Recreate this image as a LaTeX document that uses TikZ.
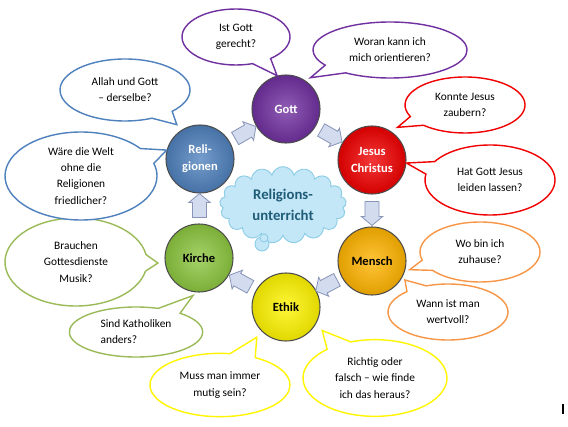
\documentclass[tikz,border=0pt]{standalone}
\usepackage{fontspec}
\setmainfont{Carlito}
\usepackage{xcolor}
\usepackage{tikz}
\usetikzlibrary{shapes.callouts, shapes.symbols, shapes.arrows}
\usetikzlibrary{calc, positioning}

\definecolor{lila}{HTML}{7030A0}
\definecolor{rot}{HTML}{F00000}
\definecolor{orange}{HTML}{FFB400}
\definecolor{orangerand}{HTML}{F79646}
\definecolor{gelb}{HTML}{FFF500}
\definecolor{gruen}{HTML}{8CC63F}
\definecolor{gruenrand}{HTML}{9BBB59}
\definecolor{blau}{HTML}{4F81BD}
\definecolor{wolkefill}{HTML}{C4E7F7}
\definecolor{wolkerand}{HTML}{8CCDE6}
\definecolor{wolketext}{HTML}{1F5C78}
\definecolor{pfeilfill}{HTML}{D3DCEF}
\definecolor{pfeilrand}{HTML}{8895B8}

\begin{document}
\begin{tikzpicture}[
      x=0.03cm, y=-0.03cm,
      kugel/.style={circle, minimum size=2.04cm, inner sep=0pt, draw=black!70, line width=0.9pt,
        shade, inner color=#1!78!white, outer color=#1!88!black,
        font=\fontsize{10.7}{14.5}\selectfont\bfseries, align=center},
      blase/.style={ellipse callout, draw=#1, fill=white, line width=1.2pt, inner sep=0pt,
        callout pointer arc=22, font=\fontsize{9.7}{13.8}\selectfont, align=center},
      pfeil/.style={single arrow, draw=pfeilrand, fill=pfeilfill, line width=0.7pt,
        minimum height=0.72cm, inner xsep=0pt, inner ysep=0.2cm, single arrow head extend=0.11cm,
        single arrow tip angle=100},
      wolke_style/.style={draw=wolkerand, fill=wolkefill, line width=0.8pt}
  ]
  \useasboundingbox (0,0) rectangle (568,427);

  % 1. Wolke in der Mitte
  \node[wolke_style, cloud, cloud puffs=17, cloud ignores aspect, minimum width=3.8cm, minimum height=2.3cm,
    text=wolketext, font=\fontsize{12.6}{18}\selectfont\bfseries, align=center]
    (ru) at (283,205) {Religions-\\unterricht};
  \node[wolke_style, circle, minimum size=0.42cm, inner sep=0pt] (ru_b1) at (262,244) {};
  \node[wolke_style, circle, minimum size=0.24cm, inner sep=0pt] (ru_b2) at (264,238) {};

  % 2. Kugeln im Kreis
  \node[kugel=lila, text=white] (gott) at (286,109) {Gott};
  \node[kugel=rot, text=white] (jesus) at (372,160) {Jesus\\Christus};
  \node[kugel=orange] (mensch) at (372,261) {Mensch};
  \node[kugel=gelb] (ethik) at (286,307) {Ethik};
  \node[kugel=gruen] (kirche) at (199,258) {Kirche};
  \node[kugel=blau, text=white] (relig) at (200,159) {Reli-\\gionen};

  % 3. Blockpfeile zwischen den Kugeln
  \foreach \von/\nach/\w in {relig/gott/30, gott/jesus/-30, jesus/mensch/-90,
                             mensch/ethik/208, ethik/kirche/151, kirche/relig/90}
    \node[pfeil, rotate=\w] (pf_\von) at ($(\von)!0.5!(\nach)$) {};

  % 4. Sprechblasen: Gott
  \node[blase=lila, minimum width=3.24cm, minimum height=1.68cm,
    callout absolute pointer={(gott.105)}] (f_gerecht) at (236,37) {Ist Gott\\gerecht?};
  \node[blase=lila, minimum width=4.62cm, minimum height=1.68cm,
    callout absolute pointer={($(gott)!1.15!(gott.52)$)}] (f_orient) at (390,50) {Woran kann ich\\mich orientieren?};

  % 5. Sprechblasen: Jesus Christus
  \node[blase=rot, minimum width=3.6cm, minimum height=1.68cm,
    callout absolute pointer={($(jesus)!1.2!(jesus.52)$)}] (f_zaubern) at (465,105) {Konnte Jesus\\zaubern?};
  \node[blase=rot, minimum width=3.9cm, minimum height=2.1cm,
    callout absolute pointer={(jesus.-5)}] (f_leiden) at (490,180) {Hat Gott Jesus\\leiden lassen?};

  % 6. Sprechblasen: Mensch
  \node[blase=orangerand, minimum width=3.6cm, minimum height=1.8cm,
    callout absolute pointer={($(mensch)!1.12!(mensch.-13)$)}] (f_zuhause) at (480,252) {Wo bin ich\\zuhause?};
  \node[blase=orangerand, minimum width=3.6cm, minimum height=1.68cm,
    callout absolute pointer={($(mensch)!1.1!(mensch.-30)$)}] (f_wertvoll) at (448,312) {Wann ist man\\wertvoll?};

  % 7. Sprechblasen: Ethik
  \node[blase=gelb, minimum width=4.32cm, minimum height=2.3cm,
    callout absolute pointer={($(ethik)!1.25!(ethik.-33)$)}] (f_richtig) at (375,378) {Richtig oder\\falsch -- wie finde\\ich das heraus?};
  \node[blase=gelb, minimum width=4.2cm, minimum height=1.9cm,
    callout absolute pointer={($(ethik)!1.22!(ethik.226)$)}] (f_mutig) at (220,385) {Muss man immer\\mutig sein?};

  % 8. Sprechblasen: Kirche
  \node[blase=gruenrand, minimum width=4.0cm, minimum height=1.5cm, align=left,
    callout absolute pointer={($(kirche)!1.1!(kirche.261)$)}] (f_katholiken) at (136,332) {Sind Katholiken\\anders?};
  \node[blase=gruenrand, minimum width=4.26cm, minimum height=2.64cm,
    callout absolute pointer={($(kirche)!1.2!(kirche.187)$)}] (f_musik) at (76,262) {Brauchen\\Gottesdienste\\Musik?};

  % 9. Sprechblasen: Religionen
  \node[blase=blau, minimum width=4.56cm, minimum height=2.64cm,
    callout absolute pointer={(relig.165)}] (f_welt) at (81,176) {Wäre die Welt\\ohne die\\Religionen\\friedlicher?};
  \node[blase=blau, minimum width=3.9cm, minimum height=1.86cm,
    callout absolute pointer={($(relig)!1.2!(relig.124)$)}] (f_allah) at (125,90) {Allah und Gott\\-- derselbe?};

  % 10. kleiner Strich unten rechts
  \draw[line width=1.2pt] (563,404) -- (563,414);

\end{tikzpicture}
\end{document}
